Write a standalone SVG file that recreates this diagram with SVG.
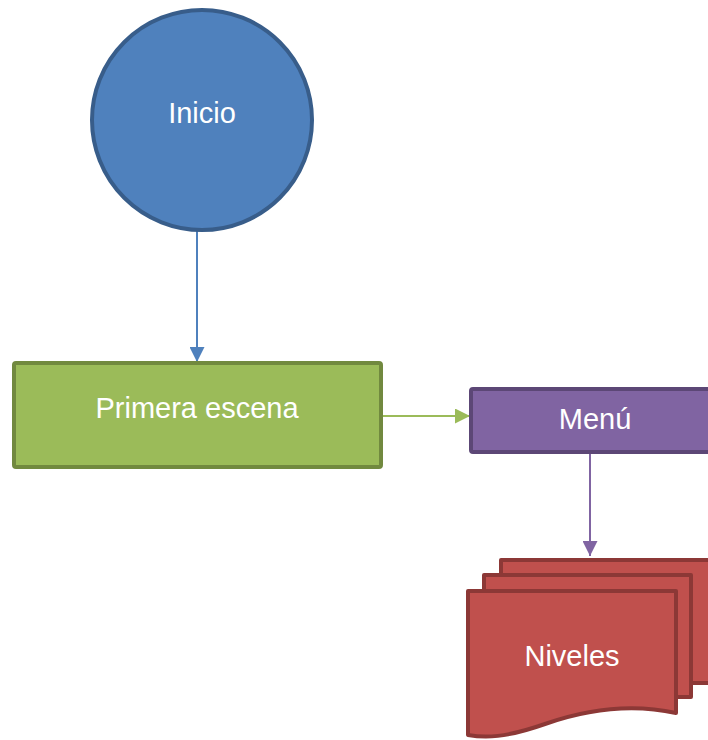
<svg xmlns="http://www.w3.org/2000/svg" width="708" height="740" viewBox="0 0 708 740">
<style>
text{font-family:"Liberation Sans",Arial,sans-serif;font-size:29px;fill:#fff;text-anchor:middle;dominant-baseline:central}
.doc{fill:#c0504d;stroke:#8c3836;stroke-width:4;stroke-linejoin:round}
</style>
<defs>
<marker id="ab" viewBox="0 0 10 10" refX="10" refY="5" markerWidth="15" markerHeight="15" markerUnits="userSpaceOnUse" orient="auto"><path d="M0,0L10,5L0,10Z" fill="#4f81bd"/></marker>
<marker id="ag" viewBox="0 0 10 10" refX="10" refY="5" markerWidth="15" markerHeight="15" markerUnits="userSpaceOnUse" orient="auto"><path d="M0,0L10,5L0,10Z" fill="#9bbb59"/></marker>
<marker id="ap" viewBox="0 0 10 10" refX="10" refY="5" markerWidth="15" markerHeight="15" markerUnits="userSpaceOnUse" orient="auto"><path d="M0,0L10,5L0,10Z" fill="#8064a2"/></marker>
</defs>
<g id="connectors">
<line x1="197" y1="231" x2="197" y2="362" stroke="#4f81bd" stroke-width="2" marker-end="url(#ab)"/>
<line x1="383" y1="416" x2="470" y2="416" stroke="#9bbb59" stroke-width="2" marker-end="url(#ag)"/>
<line x1="590" y1="453" x2="590" y2="556" stroke="#8064a2" stroke-width="2" marker-end="url(#ap)"/>
</g>
<g id="inicio">
<circle cx="202" cy="120" r="110" fill="#4f81bd" stroke="#385d8a" stroke-width="4"/>
<text x="202" y="113">Inicio</text>
</g>
<g id="primera">
<rect x="14" y="363" width="367" height="104" rx="2" fill="#9bbb59" stroke="#71893f" stroke-width="4"/>
<text x="197" y="408">Primera escena</text>
</g>
<g id="menu">
<rect x="471" y="389" width="250" height="63" rx="2" fill="#8064a2" stroke="#5c4776" stroke-width="4"/>
<text x="595" y="419">Menú</text>
</g>
<g id="niveles">
<path class="doc" d="M501,560H712V683H501Z"/>
<path class="doc" d="M484,575H691V697H484Z"/>
<path class="doc" d="M468,591H676V713C630,703 585,710 545,724C505,738 485,738 468,735Z"/>
<text x="572" y="656">Niveles</text>
</g>
</svg>
